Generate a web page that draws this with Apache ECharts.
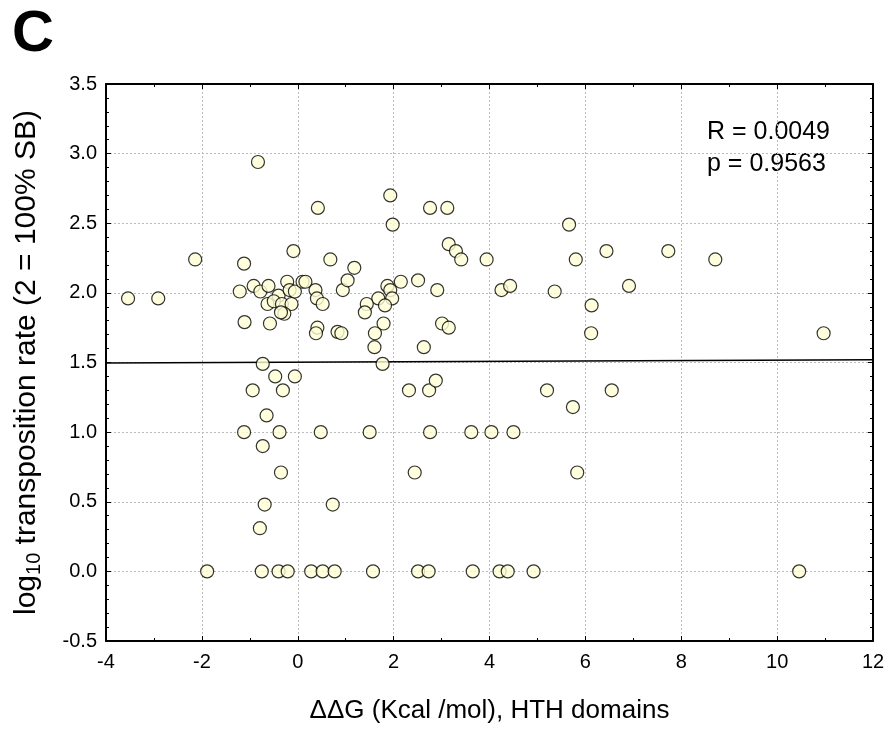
<!DOCTYPE html>
<html>
<head>
<meta charset="utf-8">
<script src="https://cdn.jsdelivr.net/npm/echarts@6/dist/echarts.min.js"></script>
<style>
  html, body { margin: 0; padding: 0; background: #fff; }
  #container { width: 889px; height: 729px; }
</style>
</head>
<body>
<div id="container"></div>
<script>
// ddG (Kcal/mol) and log10 transposition rate
var ddG = [
    -3.54, -2.91, -2.14, -0.83, -1.12,
    -1.21, -0.92, -0.78, -0.61, -0.63, -0.40, -0.50, -0.22, -0.33, -0.13, -0.28, -0.35,
    -0.17, -0.06, 0.10, 0.16, 0.37, 0.40, 0.52, -1.11, -0.58, 0.41, 0.38, 0.83, 0.91,
    0.94, 1.04, 1.18, -0.09, 0.42, 0.68,
    2.15, 1.87, 1.93, 1.97, 1.68, 1.82, 1.44, 1.40, 1.79, 1.61, 1.60, 1.77, 2.63,
    1.93, 1.98, 2.76, 3.12, 3.15, 3.30, 3.41, 3.94, 2.51, 2.91, 3.01, 3.15,
    4.25, 4.43, 5.36, 5.66, 5.80, 6.44, 6.91, 6.13, 6.12, 7.73, 8.71, 10.97,
    -0.73, -0.47, -0.06, -0.94, -0.31, 2.32, 2.74, 2.88, 5.20, 6.55, 5.74, -0.65,
    -1.12, -0.38, 0.48, 1.50, 2.76, 3.62, 4.04, 4.50, -0.73,
    -0.35, 2.44, 5.83, -0.69, 0.73, -0.79,
    -1.89, -0.75, -0.40, -0.21, 0.28, 0.52, 0.77, 1.57, 2.51, 2.73, 3.65, 4.21, 4.38, 4.92, 10.46
];
var logRate = [
    1.96, 1.96, 2.24, 2.94, 2.21,
    2.01, 2.05, 2.01, 2.05, 1.92, 1.98, 1.94, 2.08, 1.92, 1.92, 1.85, 1.86,
    2.02, 2.01, 2.08, 2.08, 2.02, 1.96, 1.92, 1.79, 1.78, 1.75, 1.71, 1.72, 1.71,
    2.02, 2.09, 2.18, 2.30, 2.61, 2.24,
    2.08, 2.05, 2.02, 1.96, 1.96, 1.91, 1.92, 1.86, 1.78, 1.71, 1.61, 1.49, 1.61,
    2.70, 2.49, 2.61, 2.61, 2.35, 2.30, 2.24, 2.24, 2.09, 2.02, 1.78, 1.75,
    2.02, 2.05, 2.01, 2.49, 2.24, 2.30, 2.05, 1.91, 1.71, 2.30, 2.24, 1.71,
    1.49, 1.40, 1.40, 1.30, 1.30, 1.30, 1.30, 1.37, 1.30, 1.30, 1.18, 1.12,
    1.00, 1.00, 1.00, 1.00, 1.00, 1.00, 1.00, 1.00, 0.90,
    0.71, 0.71, 0.71, 0.48, 0.48, 0.31,
    0, 0, 0, 0, 0, 0, 0, 0, 0, 0, 0, 0, 0, 0, 0
];

// linear fit end points
var fitX = [-4, 12];
var fitY = [1.497, 1.52];

var statsText = ['R = 0.0049', 'p = 0.9563'];

var FONT = 'Liberation Sans, Arial, sans-serif';

var points = ddG.map(function (x, i) { return [x, logRate[i]]; });
var fitLine = fitX.map(function (x, i) { return [x, fitY[i]]; });

var frameLine = { show: true, onZero: false, lineStyle: { color: '#000', width: 2 } };
var frameTick = { show: true, inside: true, length: 5, lineStyle: { color: '#000' } };
function minor(n) {
    return { show: true, splitNumber: n, length: 3, lineStyle: { color: '#000' } };
}

var myChart = echarts.init(document.getElementById('container'));

myChart.setOption({
    animation: false,
    backgroundColor: '#fff',
    grid: { left: 106, right: 16, top: 84, bottom: 87 },
    xAxis: [{
        type: 'value',
        min: -4, max: 12, interval: 2,
        position: 'bottom',
        axisLine: frameLine,
        axisTick: frameTick,
        minorTick: minor(2),
        splitLine: { show: true, lineStyle: { color: '#bbb', type: [2, 2] } },
        axisLabel: { color: '#000', fontSize: 20, fontFamily: FONT, margin: 11 },
        name: 'ΔΔG (Kcal /mol), HTH domains',
        nameLocation: 'middle',
        nameGap: 57,
        nameTextStyle: { color: '#000', fontSize: 26, fontFamily: FONT }
    }, {
        type: 'value',
        min: -4, max: 12, interval: 2,
        position: 'top',
        axisLine: frameLine,
        axisTick: frameTick,
        minorTick: minor(2),
        splitLine: { show: false },
        axisLabel: { show: false }
    }],
    yAxis: [{
        type: 'value',
        min: -0.5, max: 3.5, interval: 0.5,
        position: 'left',
        axisLine: frameLine,
        axisTick: frameTick,
        minorTick: minor(5),
        splitLine: { show: true, lineStyle: { color: '#bbb', type: [2, 2] } },
        axisLabel: {
            color: '#000', fontSize: 20, fontFamily: FONT, margin: 9,
            formatter: function (v) { return v.toFixed(1); }
        },
        name: '{a|log}{sub|10}{a| transposition rate (2 = 100% SB)}',
        nameLocation: 'middle',
        nameRotate: 90,
        nameGap: 62,
        nameTextStyle: {
            color: '#000', fontFamily: FONT,
            rich: {
                a: { fontSize: 30, lineHeight: 34, fontFamily: FONT, color: '#000' },
                sub: { fontSize: 20, lineHeight: 20, verticalAlign: 'bottom', fontFamily: FONT, color: '#000' }
            }
        }
    }, {
        type: 'value',
        min: -0.5, max: 3.5, interval: 0.5,
        position: 'right',
        axisLine: frameLine,
        axisTick: frameTick,
        minorTick: minor(5),
        splitLine: { show: false },
        axisLabel: { show: false }
    }],
    graphic: [{
        type: 'text',
        left: 12, top: 6,
        style: { text: 'C', fontSize: 58, fontWeight: 'bold', fontFamily: FONT, fill: '#000' }
    }, {
        type: 'text',
        left: 707, top: 116,
        style: {
            text: statsText.join('\n'),
            fontSize: 25, lineHeight: 32, fontFamily: FONT, fill: '#000'
        }
    }],
    series: [{
        type: 'line',
        data: fitLine,
        symbol: 'none',
        lineStyle: { color: '#000', width: 1.5 },
        z: 2
    }, {
        type: 'scatter',
        data: points,
        symbol: 'circle',
        symbolSize: 13,
        itemStyle: { color: '#ffffd4', borderColor: '#000', borderWidth: 1.2 },
        z: 3
    }]
});
</script>
</body>
</html>
